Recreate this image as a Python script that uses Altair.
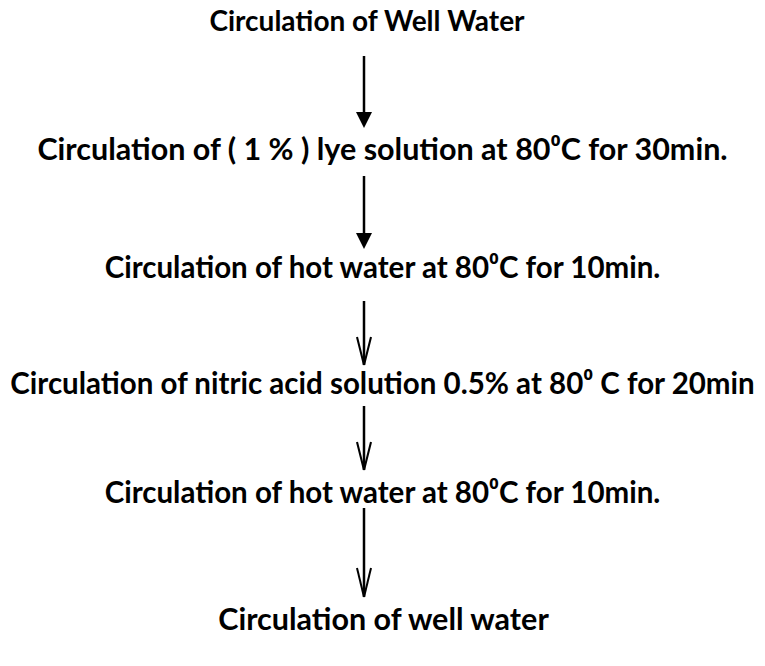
import altair as alt
import pandas as pd

# Flowchart content
steps = [
    "Circulation of Well Water",
    "Circulation of ( 1 % ) lye solution at 80\u2070C for 30min.",
    "Circulation of hot water at 80\u2070C for 10min.",
    "Circulation of nitric acid solution 0.5% at 80\u2070 C for 20min",
    "Circulation of hot water at 80\u2070C for 10min.",
    "Circulation of well water",
]
step_center_x = [367, 382.5, 382.5, 382.5, 382.5, 383.5]
step_baseline = [31, 160, 278, 394, 503, 630]
step_font_size = [28, 30.5, 29.5, 29.5, 29.5, 30.5]

arrow_x = [364, 364, 364, 364, 364]
arrow_top = [56, 176, 301, 406, 508]
arrow_tip = [128, 249, 365, 470, 597]
head_len = [16, 16, 28, 28, 29]
head_half = [8, 8, 7, 7, 7]
head_style = ["filled", "filled", "open", "open", "open"]

W, H = 749, 650
xs = alt.Scale(domain=[8, 8 + W], nice=False, zero=False)
ys = alt.Scale(domain=[8, 8 + H], nice=False, zero=False, reverse=True)

text_df = pd.DataFrame({"label": steps, "x": step_center_x, "y": step_baseline,
                        "fs": step_font_size})

shaft_rows, head_pts, v_rows = [], [], []
for ax, top, tip, hl, hh, st in zip(arrow_x, arrow_top, arrow_tip, head_len, head_half, head_style):
    if st == "filled":
        shaft_rows.append({"x": ax, "y": top, "y2": tip - hl})
        head_pts.append({"x": ax, "y": tip - hl / 2, "size": (2 * hh) ** 2})
    else:
        shaft_rows.append({"x": ax, "y": top, "y2": tip})
        v_rows.append({"x": ax - hh, "x2": ax, "y": tip - hl, "y2": tip})
        v_rows.append({"x": ax + hh, "x2": ax, "y": tip - hl, "y2": tip})

shaft_df = pd.DataFrame(shaft_rows)
head_df = pd.DataFrame(head_pts)
v_df = pd.DataFrame(v_rows)

texts = alt.Chart(text_df).mark_text(
    font="Lato", fontWeight="bold", color="black",
    align="center", baseline="alphabetic"
).encode(
    x=alt.X("x:Q", scale=xs, axis=None),
    y=alt.Y("y:Q", scale=ys, axis=None),
    size=alt.Size("fs:Q", scale=None, legend=None),
    text="label:N",
)

shafts = alt.Chart(shaft_df).mark_rule(color="black", strokeWidth=2.5).encode(
    x=alt.X("x:Q", scale=xs, axis=None),
    y=alt.Y("y:Q", scale=ys, axis=None),
    y2="y2:Q",
)

heads = alt.Chart(head_df).mark_point(
    shape="M-1,-1L1,-1L0,1Z", filled=True, color="black", opacity=1, strokeWidth=0
).encode(
    x=alt.X("x:Q", scale=xs, axis=None),
    y=alt.Y("y:Q", scale=ys, axis=None),
    size=alt.Size("size:Q", scale=None, legend=None),
)

vheads = alt.Chart(v_df).mark_rule(color="black", strokeWidth=2).encode(
    x=alt.X("x:Q", scale=xs, axis=None),
    x2="x2:Q",
    y=alt.Y("y:Q", scale=ys, axis=None),
    y2="y2:Q",
)

chart = alt.layer(shafts, vheads, heads, texts).properties(
    width=W, height=H, padding=0, autosize=alt.AutoSizeParams(type="none")
).configure(background="white").configure_view(stroke=None, strokeWidth=0)

chart.save("out.html", embed_options={"renderer": "svg", "actions": False})
